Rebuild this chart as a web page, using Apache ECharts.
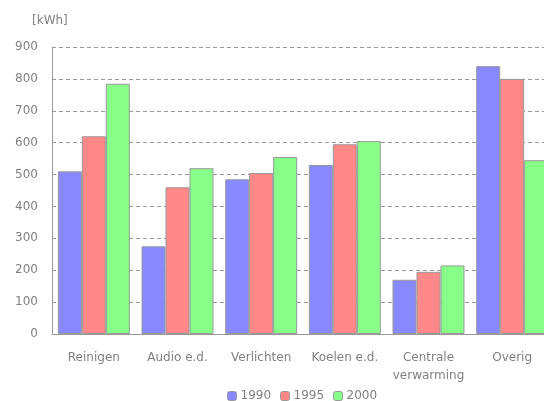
<!DOCTYPE html>
<html><head><meta charset="utf-8">
<script src="https://cdn.jsdelivr.net/npm/echarts@6/dist/echarts.min.js"></script>
<style>html,body{margin:0;padding:0;background:#fff}#c{width:544px;height:401px}</style>
</head><body><div id="c"></div>
<script>
const categories = ['Reinigen', 'Audio e.d.', 'Verlichten', 'Koelen e.d.', 'Centrale\nverwarming', 'Overig'];
const seriesNames = ['1990', '1995', '2000'];
const values1990 = [510, 275, 485, 530, 170, 840];
const values1995 = [620, 460, 505, 595, 195, 800];
const values2000 = [785, 520, 555, 605, 215, 545];
const colors = ['#8888FF', '#FF8888', '#88FF88'];

const chart = echarts.init(document.getElementById('c'), null, {renderer: 'canvas'});
const font = 'DejaVu Sans';
const txt = '#808080';
const mk = (name, data, color) => ({
  name, type: 'bar', data, barGap: '0%', barCategoryGap: '14%',
  itemStyle: {color, borderColor: '#999', borderWidth: 1}
});
chart.setOption({
  animation: false,
  title: {text: '[kWh]', left: 27, top: 10, textStyle: {fontFamily: font, fontSize: 12, fontWeight: 'normal', color: txt}},
  grid: {left: 52, top: 47, height: 287, width: 502, containLabel: false, outerBoundsMode: 'none'},
  legend: {
    left: 227, top: 390, padding: 0, itemWidth: 9, itemHeight: 9, itemGap: 9,
    textStyle: {fontFamily: font, fontSize: 12, color: txt, padding: [0, 0, 0, -1]},
    data: seriesNames.map((n, i) => ({name: n, itemStyle: {color: colors[i], borderColor: '#999', borderWidth: 1}}))
  },
  xAxis: {
    type: 'category', data: categories,
    axisLine: {lineStyle: {color: '#999', width: 1}},
    axisTick: {show: false},
    axisLabel: {fontFamily: font, fontSize: 12, color: txt, margin: 15, lineHeight: 18, interval: 0}
  },
  yAxis: {
    type: 'value', min: 0, max: 900, interval: 100,
    axisLine: {show: true, lineStyle: {color: '#999', width: 1}},
    axisTick: {show: false},
    axisLabel: {fontFamily: font, fontSize: 12, color: txt, margin: 14},
    splitLine: {lineStyle: {color: '#999', type: [4, 3], width: 1}}
  },
  series: [mk(seriesNames[0], values1990, colors[0]), mk(seriesNames[1], values1995, colors[1]), mk(seriesNames[2], values2000, colors[2])]
});
</script></body></html>
